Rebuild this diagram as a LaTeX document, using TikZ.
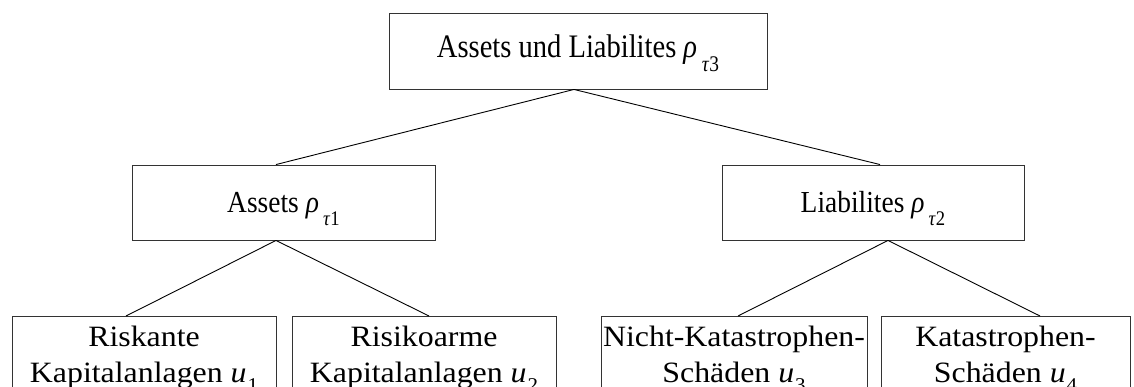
\documentclass[tikz,border=0pt]{standalone}
\usepackage{fontspec}
\setmainfont{Liberation Serif}
\newfontfamily\rootfont[FakeStretch=0.87]{Liberation Serif}
\newfontfamily\midfont[FakeStretch=0.9]{Liberation Serif}
\newfontfamily\leaffont[FakeStretch=1.08]{Liberation Serif}
\usepackage{graphicx}
% rho with a lowered tau subscript, u with a lowered index
\newcommand{\rhosub}[1]{\textit{ρ}\hspace{0.14em}\raisebox{-0.42em}{\scalebox{0.68}{\textit{τ}#1}}}
\newcommand{\usub}[1]{\textit{u}\hspace{0.03em}\raisebox{-0.3em}{\scalebox{0.66}{#1}}}
\tikzset{
  frame/.style={draw=black!80, line width=0.9pt, rectangle, inner sep=0pt, align=center},
  topbox/.style={frame, font=\rootfont\fontsize{32.8}{38}\selectfont, text height=22pt, text depth=8pt},
  midbox/.style={frame, font=\midfont\fontsize{30.5}{36}\selectfont, text height=28pt, text depth=7pt},
  leafbox/.style={frame, minimum height=84pt, anchor=north, font=\leaffont\fontsize{29.5}{36}\selectfont},
  link/.style={draw=black, line width=0.9pt}
}
\newcommand{\firstline}{\rule{0pt}{22pt}}
\newcommand{\lastline}{\rule[-10pt]{0pt}{0pt}}
\begin{document}
\begin{tikzpicture}[x=1pt,y=-1pt]
\useasboundingbox (0,0) rectangle (1134,387);
\clip (0,0) rectangle (1134,387);

% root
\node[topbox, minimum width=378pt, minimum height=76pt] (root) at (578,51)
  {Assets und Liabilites \rhosub{3}};

% second level
\node[midbox, minimum width=303pt, minimum height=75pt] (assets) at (283.5,202.5)
  {Assets \rhosub{1}};
\node[midbox, minimum width=302pt, minimum height=75pt] (liab) at (873,202.5)
  {Liabilites \rhosub{2}};

% leaves
\node[leafbox, minimum width=264pt] (r1) at (144,316)
  {\firstline Riskante\\Kapitalanlagen \usub{1}\lastline};
\node[leafbox, minimum width=264pt] (r2) at (424,316)
  {\firstline Risikoarme\\Kapitalanlagen \usub{2}\lastline};
\node[leafbox, minimum width=266pt] (nk) at (734,316)
  {\firstline Nicht-Katastrophen-\\Schäden \usub{3}\lastline};
\node[leafbox, minimum width=249pt] (kk) at (1005.5,316)
  {\firstline Katastrophen-\\Schäden \usub{4}\lastline};

% connectors
\draw[link] ([xshift=-4pt]root.south) -- ([xshift=-7.5pt]assets.north);
\draw[link] ([xshift=-4pt]root.south) -- ([xshift=7pt]liab.north);
\draw[link] ([xshift=-7.5pt]assets.south) -- ([xshift=-18pt]r1.north);
\draw[link] ([xshift=-7.5pt]assets.south) -- ([xshift=5pt]r2.north);
\draw[link] ([xshift=15pt]liab.south) -- ([xshift=4pt]nk.north);
\draw[link] ([xshift=15pt]liab.south) -- ([xshift=34.5pt]kk.north);
\end{tikzpicture}
\end{document}
